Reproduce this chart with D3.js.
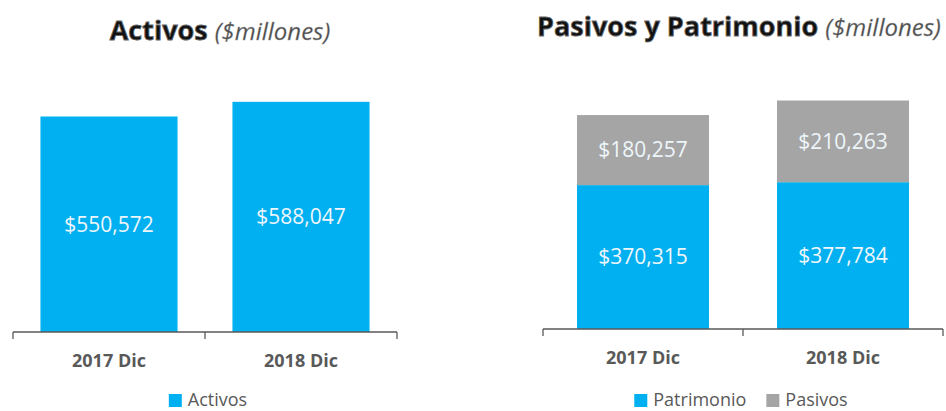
<!DOCTYPE html>
<html>
<head>
<meta charset="utf-8">
<script src="https://cdn.jsdelivr.net/npm/d3@7"></script>
<style>
  body { margin: 0; background: #fff; }
  text { font-family: "Open Sans", sans-serif; }
</style>
</head>
<body>
<div id="chart"></div>
<script>
// Two side by side column charts: total assets, and liabilities + equity stacked

const categories = ['2017 Dic', '2018 Dic']
const activos    = [550572, 588047]
const patrimonio = [370315, 377784]
const pasivos    = [180257, 210263]

const BLUE = '#00b0f0'
const GRAY = '#a5a5a5'
const AXIS = '#595959'

const W = 946, H = 411

const svg = d3.select('#chart').append('svg').attr('width', W).attr('height', H)

const fmt = v => '$' + d3.format(',')(v)

// ---------------------------------------------------------------- left chart
const xL = d3.scaleBand(categories, [13, 397]).paddingInner(0.286).paddingOuter(0.143)
const yL = d3.scaleLinear([0, 700000], [332, 58])

svg.append('g').selectAll('rect').data(activos).join('rect')
  .attr('x', (d, i) => xL(categories[i]))
  .attr('width', xL.bandwidth())
  .attr('y', d => yL(d))
  .attr('height', d => yL(0) - yL(d))
  .attr('fill', BLUE)

svg.append('g').selectAll('text').data(activos).join('text')
  .attr('x', (d, i) => xL(categories[i]) + xL.bandwidth()/2)
  .attr('y', d => (yL(d) + yL(0))/2)
  .attr('dy', '0.35em')
  .attr('text-anchor', 'middle')
  .attr('fill', '#eef6fb').attr('font-size', 21)
  .text(fmt)

axis(xL, yL(0))

title(220, 40, 'Activos')

legend(208, 400, [['Activos', BLUE]])

// ---------------------------------------------------------------- right chart
const xR = d3.scaleBand(categories, [543, 943]).paddingInner(0.34).paddingOuter(0.17)
const yR = d3.scaleLinear([0, 700000], [329, 57])

const stacked = categories.map((c, i) => [
  { c, v: patrimonio[i], y0: 0,             y1: patrimonio[i],             col: BLUE },
  { c, v: pasivos[i],    y0: patrimonio[i], y1: patrimonio[i] + pasivos[i], col: GRAY }
]).flat()

svg.append('g').selectAll('rect').data(stacked).join('rect')
  .attr('x', d => xR(d.c))
  .attr('width', xR.bandwidth())
  .attr('y', d => yR(d.y1))
  .attr('height', d => yR(d.y0) - yR(d.y1))
  .attr('fill', d => d.col)

svg.append('g').selectAll('text').data(stacked).join('text')
  .attr('x', d => xR(d.c) + xR.bandwidth()/2)
  .attr('y', d => (yR(d.y0) + yR(d.y1))/2)
  .attr('dy', '0.35em')
  .attr('text-anchor', 'middle')
  .attr('fill', '#eef6fb').attr('font-size', 21)
  .text(d => fmt(d.v))

axis(xR, yR(0))

title(739, 36, 'Pasivos y Patrimonio')

legend(741, 400, [['Patrimonio', BLUE], ['Pasivos', GRAY]])

// ---------------------------------------------------------------- helpers
function axis(x, y0) {
  const [a, b] = x.range()
  const g = svg.append('g').attr('stroke', AXIS).attr('stroke-width', 1.3)
  g.append('line').attr('x1', a).attr('x2', b).attr('y1', y0).attr('y2', y0)
  const edges = [a, ...categories.slice(1).map(c => x(c) - x.step()*x.paddingInner()/2), b]
  g.selectAll('line.tk').data(edges).join('line').attr('class', 'tk')
    .attr('x1', d => d).attr('x2', d => d).attr('y1', y0).attr('y2', y0 + 7)
  svg.append('g').selectAll('text').data(categories).join('text')
    .attr('x', d => x(d) + x.bandwidth()/2)
    .attr('y', y0 + 35)
    .attr('text-anchor', 'middle')
    .attr('font-size', 18).attr('font-weight', 'bold').attr('fill', AXIS)
    .text(d => d)
}

function title(cx, y, main) {
  const t = svg.append('text').attr('x', cx).attr('y', y).attr('text-anchor', 'middle')
    .attr('font-size', 27)
  t.append('tspan').attr('font-weight', 'bold').attr('fill', '#111')
    .attr('stroke', '#666').attr('stroke-width', 0.8).text(main + ' ')
  t.append('tspan').attr('font-style', 'italic').attr('fill', '#4d4d4d').attr('font-size', 24)
    .attr('stroke', '#999').attr('stroke-width', 0.3)
    .text('($millones)')
}

function legend(cx, y, items) {
  const g = svg.append('g')
  let x = 0
  items.forEach(([name, col]) => {
    g.append('rect').attr('x', x).attr('y', y - 6).attr('width', 13).attr('height', 13).attr('fill', col)
    const t = g.append('text').attr('x', x + 19).attr('y', y).attr('dy', '0.35em')
      .attr('font-size', 18).attr('fill', AXIS).text(name)
    x += 19 + t.node().getComputedTextLength() + 20
  })
  const w = x - 20
  g.attr('transform', `translate(${cx - w/2},0)`)
}
</script>
</body>
</html>
